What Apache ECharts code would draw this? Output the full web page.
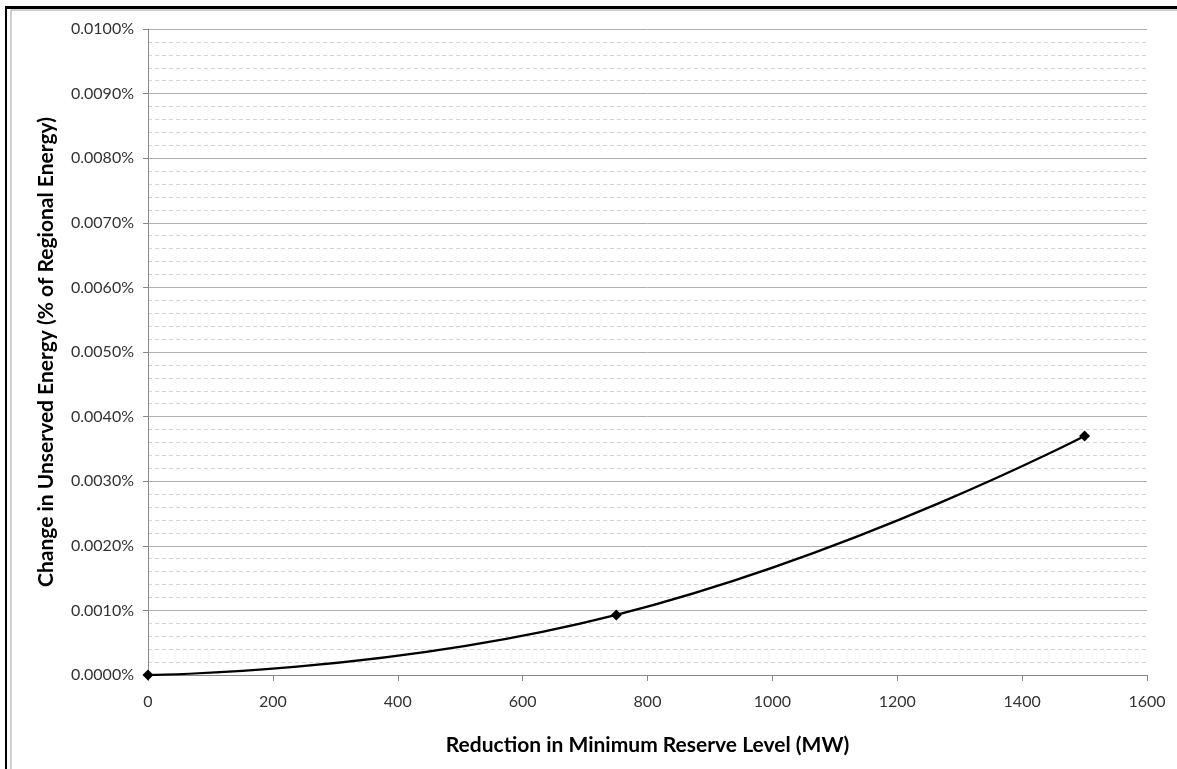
<!DOCTYPE html>
<html><head><meta charset="utf-8">
<script src="https://cdn.jsdelivr.net/npm/echarts@6/dist/echarts.min.js"></script>
<style>html,body{margin:0;padding:0;background:#fff}#c{width:1177px;height:769px}</style>
</head><body><div id="c"></div>
<script>
var xValues = [0, 750, 1500];
var yValues = [0, 0.00093, 0.0037]; // percent of regional energy
var xTicks = [0, 200, 400, 600, 800, 1000, 1200, 1400, 1600];
var yTicks = [0, 0.001, 0.002, 0.003, 0.004, 0.005, 0.006, 0.007, 0.008, 0.009, 0.01];
var xTitle = 'Reduction in Minimum Reserve Level (MW)';
var yTitle = 'Change in Unserved Energy (% of Regional Energy)';

var chart = echarts.init(document.getElementById('c'));
var font = 'Lato, "Open Sans", sans-serif';
chart.setOption({
  animation: false,
  backgroundColor: '#fff',
  grid: {left: 148, top: 29, right: 30, bottom: 94, containLabel: false},
  graphic: [
    {type: 'rect', shape: {x: 11, y: 10, width: 1200, height: 800}, style: {fill: 'none', stroke: '#a0a0a0', lineWidth: 1}},
    {type: 'rect', shape: {x: 5, y: 6, width: 1180, height: 3}, style: {fill: '#000'}},
    {type: 'rect', shape: {x: 5, y: 6, width: 2, height: 770}, style: {fill: '#000'}}
  ],
  xAxis: {
    type: 'value', min: xTicks[0], max: xTicks[xTicks.length - 1], interval: 200,
    name: xTitle, nameLocation: 'middle', nameGap: 60,
    nameTextStyle: {fontFamily: font, fontSize: 21, fontWeight: 'bold', color: '#000'},
    axisLine: {show: true, lineStyle: {color: '#888', width: 1}},
    axisTick: {show: true, inside: false, length: 6, lineStyle: {color: '#888'}},
    axisLabel: {fontFamily: font, fontSize: 16, color: '#333', margin: 19,
      formatter: function (v) { return String(v); }},
    splitLine: {show: false}
  },
  yAxis: {
    type: 'value', min: yTicks[0], max: yTicks[yTicks.length - 1], interval: 0.001,
    name: yTitle, nameLocation: 'middle', nameGap: 91,
    nameTextStyle: {fontFamily: font, fontSize: 21, fontWeight: 'bold', color: '#000'},
    axisLine: {show: true, lineStyle: {color: '#888', width: 1}},
    axisTick: {show: true, length: 5, lineStyle: {color: '#888'}},
    axisLabel: {fontFamily: font, fontSize: 16, color: '#333', margin: 14,
      formatter: function (v) { return v.toFixed(4) + '%'; }},
    splitLine: {show: true, lineStyle: {color: '#b0b0b0', width: 1}},
    minorTick: {show: false, splitNumber: 5},
    minorSplitLine: {show: true, lineStyle: {color: '#d4d4d4', width: 1, type: [4, 3]}}
  },
  series: [{
    type: 'line',
    data: xValues.map(function (x, i) { return [x, yValues[i]]; }),
    smooth: 0.5,
    symbol: 'diamond', symbolSize: 11,
    itemStyle: {color: '#000'},
    lineStyle: {color: '#000', width: 2.2}
  }]
});
</script></body></html>
